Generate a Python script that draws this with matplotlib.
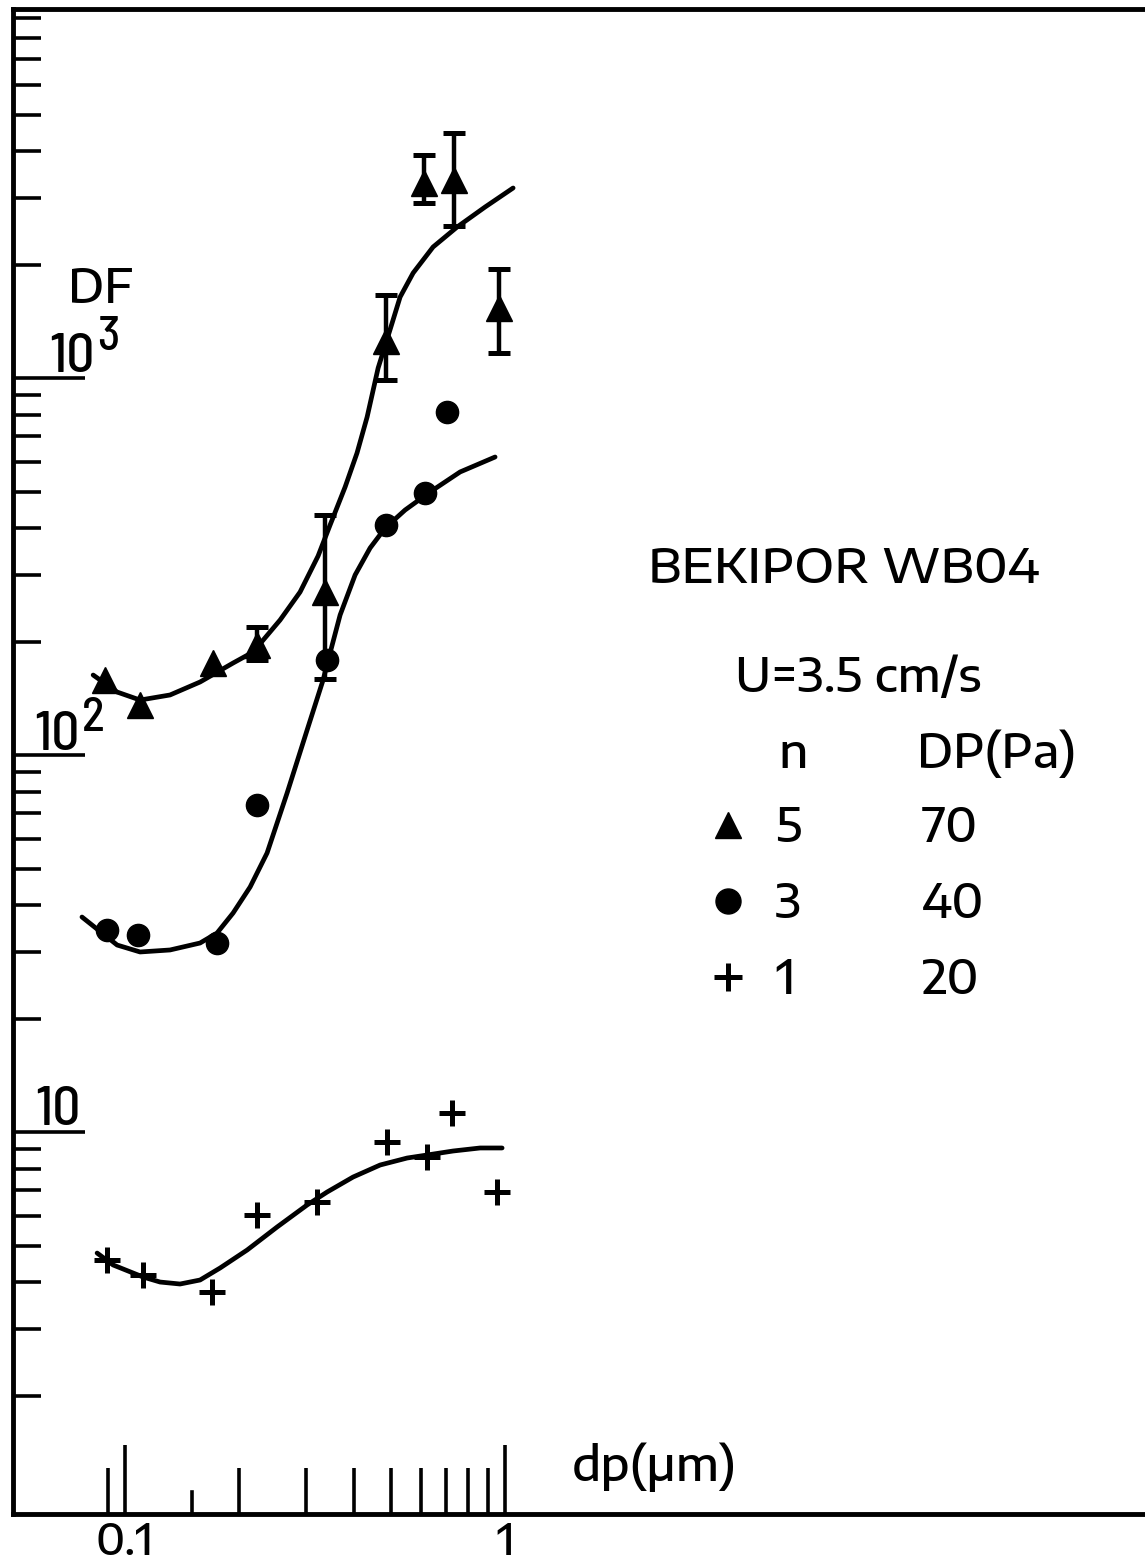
import numpy as np
import matplotlib
matplotlib.use('Agg')
import matplotlib.pyplot as plt
from matplotlib.lines import Line2D
from matplotlib.ticker import FixedLocator, NullFormatter, FixedFormatter

W, H, DPI = 1145, 1564, 100
FS = 34

# ---------------- data ----------------
# n = 5 (triangles)
tri_x = [0.0886, 0.1095, 0.1704, 0.2226, 0.3360, 0.4864, 0.6121, 0.7342, 0.9643]
tri_y = [158.1, 135.7, 175.4, 195.8, 270.6, 1253, 3290, 3352, 1533]
tri_lo = [158.1, 135.7, 175.4, 178.6, 159.1, 987.9, 2912, 2531, 1165]
tri_hi = [158.1, 135.7, 175.4, 218.6, 433.1, 1661, 3905, 4466, 1946]

# n = 3 (circles)
cir_x = [0.0897, 0.1082, 0.1746, 0.2226, 0.3401, 0.4864, 0.6158, 0.7036]
cir_y = [34.34, 33.30, 31.72, 73.69, 178.6, 407.5, 495.5, 812.4]

# n = 1 (plus)
plu_x = [0.0897, 0.1115, 0.1694, 0.2226, 0.3201, 0.4894, 0.6233, 0.7253, 0.9526]
plu_y = [4.576, 4.175, 3.763, 6.024, 6.522, 9.408, 8.585, 11.23, 6.931]

# fitted curves
tri_fit_x = [0.0824, 0.0953, 0.1095, 0.1313, 0.1575, 0.1924, 0.2172, 0.2558, 0.2887,
             0.3220, 0.3463, 0.3793, 0.4077, 0.4334, 0.4633, 0.5043, 0.5293, 0.5727,
             0.6463, 0.7477, 0.8859, 1.0498]
tri_fit_y = [163.0, 146.9, 139.9, 144.3, 156.2, 175.4, 187.6, 228.1, 270.6,
             337.2, 407.5, 513.9, 632.6, 788.0, 1063, 1399, 1640, 1899,
             2226, 2515, 2842, 3192]

cir_fit_x = [0.0770, 0.0953, 0.1095, 0.1313, 0.1575, 0.1746, 0.1924, 0.2133, 0.2364,
             0.2669, 0.3013, 0.3319, 0.3463, 0.3680, 0.4030, 0.4413, 0.4835, 0.5456,
             0.6346, 0.7614, 0.9412]
cir_fit_y = [37.18, 31.33, 30.03, 30.40, 31.72, 33.72, 38.10, 44.66, 54.97,
             79.29, 116.5, 158.1, 186.5, 235.2, 300.3, 354.1, 400.1, 446.6,
             498.5, 563.4, 617.3]

plu_fit_x = [0.0844, 0.0930, 0.1115, 0.1236, 0.1395, 0.1575, 0.1778, 0.2095, 0.2512,
             0.3013, 0.3401, 0.3981, 0.4690, 0.5523, 0.6233, 0.7298, 0.8594, 0.9820]
plu_fit_y = [4.775, 4.439, 4.125, 4.000, 3.952, 4.050, 4.358, 4.864, 5.598,
             6.404, 6.931, 7.596, 8.175, 8.531, 8.690, 8.905, 9.071, 9.071]

# axes ticks / labels
x_major_ticks = [0.1, 1.0]
x_tick_labels = ['0.1', '1']
x_minor_ticks = [0.09, 0.2, 0.3, 0.4, 0.5, 0.6, 0.7, 0.8, 0.9]
x_short_tick = 0.15
y_major_ticks = [10, 100, 1000]
y_minor_ticks = [m * d for d in (1, 10, 100, 1000) for m in range(2, 10)]

# legend content
n_labels = ['5', '3', '1']
dp_labels = ['70', '40', '20']

# ---------------- figure ----------------
MAIN_FONT = ['Encode Sans Semi Expanded', 'DejaVu Sans']
TITLE_FONT = ['Encode Sans Expanded', 'DejaVu Sans']
DECADE_FONT = ['Barlow Semi Condensed', 'DejaVu Sans']
plt.rcParams['font.family'] = MAIN_FONT
plt.rcParams['font.weight'] = 'medium'
fig = plt.figure(figsize=(W / DPI, H / DPI), dpi=DPI)
fig.patch.set_facecolor('white')

ax = fig.add_axes([13 / W, 50 / H, 1 - 13 / W, (1514 - 9) / H])
ax.set_xscale('log')
ax.set_yscale('log')
ax.set_xlim(0.0507, 48.3)
ax.set_ylim(0.970, 9524)

for side in ('left', 'bottom', 'top'):
    ax.spines[side].set_linewidth(3.5)
    ax.spines[side].set_color('black')
ax.spines['right'].set_visible(False)

ax.xaxis.set_major_locator(FixedLocator(x_major_ticks))
ax.xaxis.set_major_formatter(FixedFormatter(x_tick_labels))
ax.xaxis.set_minor_locator(FixedLocator(x_minor_ticks))
ax.xaxis.set_minor_formatter(NullFormatter())
ax.yaxis.set_major_locator(FixedLocator(y_major_ticks))
ax.yaxis.set_major_formatter(NullFormatter())
ax.yaxis.set_minor_locator(FixedLocator(y_minor_ticks))
ax.yaxis.set_minor_formatter(NullFormatter())

ax.tick_params(axis='x', which='major', direction='in', length=50, width=2.6,
               pad=4, labelsize=FS - 3, top=False, color='k')
ax.tick_params(axis='x', which='minor', direction='in', length=33, width=2.6, top=False)
ax.tick_params(axis='y', which='major', direction='in', length=52, width=2.6,
               right=False, labelleft=False)
ax.tick_params(axis='y', which='minor', direction='in', length=20, width=2.6, right=False)
ax.axvline(x_short_tick, ymin=0, ymax=22 / 1505, color='k', lw=2.6)

# curves
for cx, cy in ((tri_fit_x, tri_fit_y), (cir_fit_x, cir_fit_y), (plu_fit_x, plu_fit_y)):
    ax.plot(cx, cy, color='k', lw=3.4, solid_capstyle='round', solid_joinstyle='round', zorder=2)

# error bars (only where an interval was drawn)
tx = np.array(tri_x); ty = np.array(tri_y); tlo = np.array(tri_lo); thi = np.array(tri_hi)
m = thi > tlo
ax.errorbar(tx[m], ty[m], yerr=[ty[m] - tlo[m], thi[m] - ty[m]], fmt='none', ecolor='k',
            elinewidth=3.2, capsize=8, capthick=3.6, zorder=3)

# markers
ax.plot(tri_x, tri_y, ls='none', marker='^', ms=19, color='k', zorder=4)
ax.plot(cir_x, cir_y, ls='none', marker='o', ms=16, color='k', zorder=4)
ax.plot(plu_x, plu_y, ls='none', marker='+', ms=19, mew=3.6, color='k', zorder=4)


def ftext(px, py, s, **kw):
    kw.setdefault('fontsize', FS)
    fig.text(px / W, 1 - py / H, s, ha='left', va='baseline', color='k', **kw)


# y-axis labels
ftext(68, 303, 'DF')
ftext(49, 372, '10', fontsize=40, family=DECADE_FONT)
ftext(97, 350, '3', fontsize=34, family=DECADE_FONT)
ftext(34, 750, '10', fontsize=40, family=DECADE_FONT)
ftext(82, 731, '2', fontsize=34, family=DECADE_FONT)
ftext(35, 1125, '10', fontsize=40, family=DECADE_FONT)
ftext(572, 1481, 'dp(μm)')

# annotation block
ftext(648, 583, 'BEKIPOR WB04', fontsize=34, family=TITLE_FONT)
ftext(735, 692, 'U=3.5 cm/s')
ftext(778, 768, 'n')
ftext(917, 768, 'DP(Pa)')

h_tri = Line2D([], [], ls='none', marker='^', ms=19, color='k')
h_cir = Line2D([], [], ls='none', marker='o', ms=18, color='k')
h_plu = Line2D([], [], ls='none', marker='+', ms=20, mew=3.6, color='k')
common = dict(loc='upper left', frameon=False, fontsize=FS, labelspacing=0.59,
              borderpad=0, borderaxespad=0, numpoints=1)
fig.legend(handles=[h_tri, h_cir, h_plu], labels=n_labels,
           bbox_to_anchor=(704 / W, 1 - 804 / H), handlelength=1.0,
           handletextpad=0.5, **common)
blank = [Line2D([], [], ls='none') for _ in dp_labels]
fig.legend(handles=blank, labels=dp_labels, bbox_to_anchor=(922 / W, 1 - 804 / H),
           handlelength=0, handletextpad=0, **common)

fig.savefig('out.png', dpi=DPI)
